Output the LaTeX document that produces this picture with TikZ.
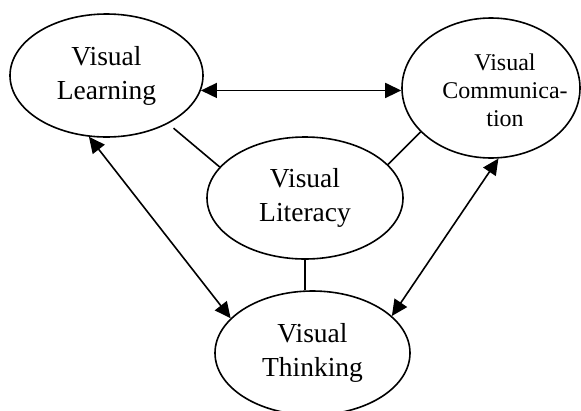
\documentclass[tikz,border=0pt]{standalone}
\usepackage{fontspec}
\setmainfont{Liberation Serif}
\usetikzlibrary{shapes.geometric,arrows.meta}

\tikzset{
    burbuja/.style={draw, ellipse, line width=1.6pt, inner sep=0pt, align=center,
        font=\fontsize{27.5}{34}\selectfont},
    flecha/.style={line width=1.6pt,
        {Triangle[length=16pt,width=15pt]}-{Triangle[length=16pt,width=15pt]}},
    enlace/.style={line width=1.6pt}
}

\begin{document}
\begin{tikzpicture}[x=1pt,y=-1pt]
    \useasboundingbox (0,0) rectangle (581,410);

    % los cuatro ovalos
    \node[burbuja, minimum width=193pt, minimum height=123pt] (learn) at (106.5,75.5) {Visual\\Learning};
    \node[burbuja, minimum width=178pt, minimum height=140pt] (comm) at (491,88) {};
    \node[align=center, inner sep=0pt, font=\fontsize{24}{28}\selectfont] (commtext) at (505,90) {Visual\\Communica-\\tion};
    \node[burbuja, minimum width=196pt, minimum height=122pt] (lit) at (305,198) {Visual\\Literacy};
    \node[burbuja, minimum width=195pt, minimum height=124pt] (think) at (312.5,353) {Visual\\Thinking};

    \draw[flecha] (learn.-9) -- (learn.-9 -| comm.west);
    \draw[flecha] (learn.254.5) -- (think.157);
    \draw[flecha] (comm.276.3) -- (think.25.5);

    % lineas hacia el centro
    \draw[enlace, shorten <=7pt] (learn.-38.4) -- (lit.160.6);
    \draw[enlace] (comm.212.5) -- (lit.22.4);
    \draw[enlace] (lit.south) -- (think.north -| lit.south);
\end{tikzpicture}
\end{document}
